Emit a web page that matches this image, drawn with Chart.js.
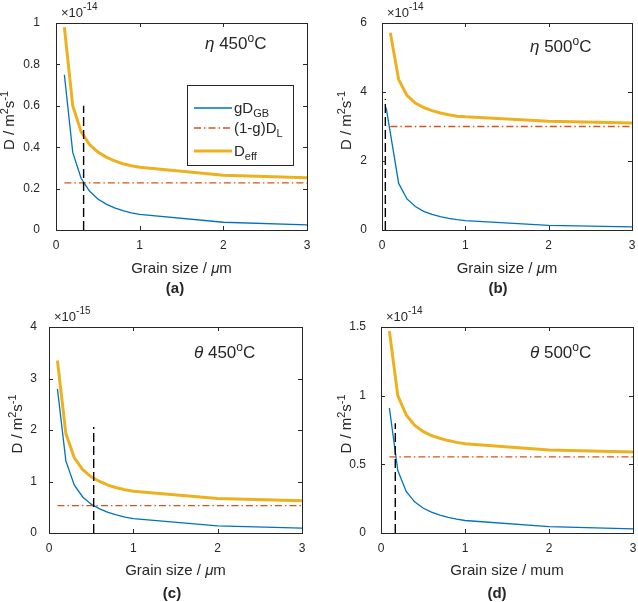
<!DOCTYPE html>
<html>
<head>
<meta charset="utf-8">
<script src="https://cdn.jsdelivr.net/npm/chart.js@4.4.1/dist/chart.umd.min.js"></script>
<style>
  html, body { margin: 0; padding: 0; background: #fff; }
  #wrap { position: relative; width: 638px; height: 602px; overflow: hidden; }
  canvas { position: absolute; }
</style>
</head>
<body>
<div id="wrap">
  <canvas id="ca" width="319" height="301" style="left:0;top:0"></canvas>
  <canvas id="cb" width="319" height="301" style="left:319px;top:0"></canvas>
  <canvas id="cc" width="319" height="301" style="left:0;top:301px"></canvas>
  <canvas id="cd" width="319" height="301" style="left:319px;top:301px"></canvas>
</div>
<script>
// grain sizes (um) used by the curves
const grainSize = [0.1, 0.2, 0.3, 0.4, 0.5, 0.6, 0.7, 0.8, 0.9, 1, 2, 3];
const latticeX = [0.1, 3];
const xTicks = [0, 1, 2, 3];

// (a) eta 450C, x1e-14
const gbA = [0.75, 0.375, 0.25, 0.188, 0.15, 0.125, 0.107, 0.094, 0.083, 0.075, 0.0375, 0.025];
const latticeA = [0.228, 0.228];
const effA = [0.98, 0.60, 0.475, 0.413, 0.377, 0.352, 0.334, 0.32, 0.31, 0.303, 0.265, 0.253];
const critA = [0.33, 0.6];
const yTicksA = [0, 0.2, 0.4, 0.6, 0.8, 1];

// (b) eta 500C, x1e-14
const grainSizeB = [0.05, 0.2, 0.3, 0.4, 0.5, 0.6, 0.7, 0.8, 0.9, 1, 2, 3];
const gbB = [3.55, 1.35, 0.9, 0.68, 0.54, 0.45, 0.39, 0.34, 0.3, 0.27, 0.135, 0.09];
const latticeB = [3.0, 3.0];
const effB = [5.72, 4.36, 3.9, 3.68, 3.55, 3.46, 3.39, 3.34, 3.3, 3.28, 3.15, 3.1];
const critB = [0.04, 3.8];
const yTicksB = [0, 2, 4, 6];

// (c) theta 450C, x1e-15
const gbC = [2.8, 1.4, 0.93, 0.7, 0.56, 0.47, 0.4, 0.35, 0.31, 0.28, 0.14, 0.093];
const latticeC = [0.53, 0.53];
const effC = [3.35, 1.93, 1.46, 1.23, 1.09, 1.0, 0.93, 0.88, 0.84, 0.81, 0.67, 0.625];
const critC = [0.53, 2.06];
const yTicksC = [0, 1, 2, 3, 4];

// (d) theta 500C, x1e-14
const gbD = [0.91, 0.455, 0.303, 0.227, 0.182, 0.152, 0.13, 0.114, 0.101, 0.091, 0.046, 0.03];
const latticeD = [0.555, 0.555];
const effD = [1.47, 1.0, 0.86, 0.785, 0.74, 0.71, 0.69, 0.673, 0.66, 0.65, 0.605, 0.59];
const critD = [0.17, 0.8];
const yTicksD = [0, 0.5, 1, 1.5];

const FONT = "'Liberation Sans', Arial, Helvetica, sans-serif";
const INK = '#262626';
const BLUE = '#0072BD';
const RED = '#D95319';
const GOLD = '#EDB120';

function pts(xs, ys) {
  return xs.map((x, i) => ({ x: x, y: ys[i] }));
}

function fontOf(r) {
  return (r.italic ? 'italic ' : '') + (r.bold ? 'bold ' : '') + r.size + 'px ' + FONT;
}

// draw a row of text pieces (for sub/superscripts), returns width
function runs(ctx, parts, x, y, align) {
  let w = 0;
  parts.forEach(r => { ctx.font = fontOf(r); w += ctx.measureText(r.t).width; });
  let cx = align === 'center' ? x - w / 2 : x;
  ctx.textAlign = 'left';
  ctx.textBaseline = 'alphabetic';
  ctx.fillStyle = INK;
  parts.forEach(r => {
    ctx.font = fontOf(r);
    ctx.fillText(r.t, cx, y + (r.dy || 0));
    cx += ctx.measureText(r.t).width;
  });
  return w;
}

const panelText = {
  id: 'panelText',
  afterDraw(chart) {
    const p = chart.options.plugins.panelText;
    const ctx = chart.ctx;
    const a = chart.chartArea;
    const xs = chart.scales.x, ys = chart.scales.y;
    ctx.save();
    // box and inward ticks
    ctx.strokeStyle = INK;
    ctx.lineWidth = 1;
    ctx.strokeRect(Math.round(a.left) + 0.5, Math.round(a.top) + 0.5,
      Math.round(a.right - a.left), Math.round(a.bottom - a.top));
    ctx.beginPath();
    xTicks.forEach(v => {
      const px = Math.round(xs.getPixelForValue(v)) + 0.5;
      ctx.moveTo(px, a.bottom); ctx.lineTo(px, a.bottom - 4);
      ctx.moveTo(px, a.top); ctx.lineTo(px, a.top + 4);
    });
    p.yTicks.forEach(v => {
      const py = Math.round(ys.getPixelForValue(v)) + 0.5;
      ctx.moveTo(a.left, py); ctx.lineTo(a.left + 4, py);
      ctx.moveTo(a.right, py); ctx.lineTo(a.right - 4, py);
    });
    ctx.stroke();

    // exponent
    runs(ctx, [{ t: '\u00d710', size: 13 }, { t: p.exp, size: 10, dy: -7 }], a.left + 5, a.top - 6, 'left');

    // annotation
    runs(ctx, [{ t: p.sym, size: 17, italic: true }, { t: ' ' + p.temp, size: 17 },
      { t: 'o', size: 12, dy: -7 }, { t: 'C', size: 17 }], p.noteX, p.noteY, 'left');

    // x title and panel letter
    const cx = (a.left + a.right) / 2;
    if (p.unitItalic) {
      runs(ctx, [{ t: 'Grain size / ', size: 15 }, { t: '\u03bc', size: 15, italic: true }, { t: 'm', size: 15 }], cx, p.xTitleY, 'center');
    } else {
      runs(ctx, [{ t: 'Grain size / mum', size: 15 }], cx, p.xTitleY, 'center');
    }
    runs(ctx, [{ t: p.letter, size: 15, bold: true }], p.letterX, p.letterY, 'center');

    // y title (rotated)
    ctx.save();
    ctx.translate(p.yTitleX, (a.top + a.bottom) / 2 - 6);
    ctx.rotate(-Math.PI / 2);
    runs(ctx, [{ t: 'D / m', size: 15 }, { t: '2', size: 11, dy: -6 }, { t: 's', size: 15 }, { t: '-1', size: 11, dy: -6 }], 0, 0, 'center');
    ctx.restore();

    // legend
    if (p.legend) {
      const L = p.legend;
      ctx.fillStyle = '#fff';
      ctx.fillRect(L.x, L.y, L.w, L.h);
      ctx.strokeStyle = INK;
      ctx.lineWidth = 1;
      ctx.strokeRect(L.x + 0.5, L.y + 0.5, L.w, L.h);
      const rows = [
        { color: BLUE, width: 1.3, dash: [], label: [{ t: 'gD', size: 15 }, { t: 'GB', size: 11, dy: 4 }] },
        { color: RED, width: 1.3, dash: [7, 3, 1.5, 3], label: [{ t: '(1-g)D', size: 15 }, { t: 'L', size: 11, dy: 4 }] },
        { color: GOLD, width: 3, dash: [], label: [{ t: 'D', size: 15 }, { t: 'eff', size: 11, dy: 4 }] }
      ];
      rows.forEach((r, i) => {
        const y = L.rows[i];
        ctx.strokeStyle = r.color;
        ctx.lineWidth = r.width;
        ctx.setLineDash(r.dash);
        ctx.beginPath();
        ctx.moveTo(L.x + 7, y); ctx.lineTo(L.x + 45, y);
        ctx.stroke();
        ctx.setLineDash([]);
        runs(ctx, r.label, L.x + 47, y + 5, 'left');
      });
    }
    ctx.restore();
  }
};

function makePanel(id, cfg) {
  const datasets = [
    { data: pts(cfg.gx, cfg.gb), borderColor: BLUE, borderWidth: 1.3, order: 3 },
    { data: pts(latticeX, cfg.lat), borderColor: RED, borderWidth: 1.3, borderDash: [7, 3, 1.5, 3], order: 2 },
    { data: pts(grainSize, cfg.eff), borderColor: GOLD, borderWidth: 3, order: 1 },
    { data: pts([cfg.crit[0], cfg.crit[0]], [0, cfg.crit[1]]), borderColor: '#000', borderWidth: 1.4, borderDash: [9, 4], order: 0 }
  ];
  datasets.forEach(d => { d.pointRadius = 0; d.fill = false; d.tension = 0; });
  const tickFont = { family: FONT, size: 12 };
  return new Chart(document.getElementById(id), {
    type: 'line',
    data: { datasets: datasets },
    options: {
      responsive: false,
      animation: false,
      layout: { padding: { left: 0, top: cfg.T, right: 319 - cfg.R, bottom: 0 } },
      plugins: {
        legend: { display: false },
        tooltip: { enabled: false },
        panelText: cfg.text
      },
      scales: {
        x: {
          type: 'linear', min: 0, max: 3,
          afterBuildTicks: s => { s.ticks = xTicks.map(v => ({ value: v })); },
          afterFit: s => { s.height = 301 - cfg.B; },
          grid: { display: false },
          border: { display: false },
          ticks: { font: tickFont, color: INK, padding: 0, maxRotation: 0, autoSkip: false }
        },
        y: {
          type: 'linear', min: 0, max: cfg.yTicks[cfg.yTicks.length - 1],
          afterBuildTicks: s => { s.ticks = cfg.yTicks.map(v => ({ value: v })); },
          afterFit: s => { s.width = cfg.L; },
          grid: { display: false },
          border: { display: false },
          ticks: { font: tickFont, color: INK, padding: cfg.tickPad, autoSkip: false, callback: v => String(v) }
        }
      }
    },
    plugins: [panelText]
  });
}

makePanel('ca', {
  gx: grainSize, gb: gbA, lat: latticeA, eff: effA, crit: critA, yTicks: yTicksA,
  L: 56, R: 307, T: 23, B: 230, tickPad: 8,
  text: {
    yTicks: yTicksA, exp: '-14', sym: '\u03b7', temp: '450', noteX: 205, noteY: 49,
    unitItalic: true, xTitleY: 273, letter: '(a)', letterX: 175, letterY: 293, yTitleX: 14,
    legend: { x: 187, y: 85, w: 106, h: 80, rows: [108, 128, 151] }
  }
});

makePanel('cb', {
  gx: grainSizeB, gb: gbB, lat: latticeB, eff: effB, crit: critB, yTicks: yTicksB,
  L: 63, R: 313, T: 23, B: 230, tickPad: 7,
  text: {
    yTicks: yTicksB, exp: '-14', sym: '\u03b7', temp: '500', noteX: 211, noteY: 52,
    unitItalic: true, xTitleY: 273, letter: '(b)', letterX: 179, letterY: 293, yTitleX: 32
  }
});

makePanel('cc', {
  gx: grainSize, gb: gbC, lat: latticeC, eff: effC, crit: critC, yTicks: yTicksC,
  L: 49, R: 302, T: 26, B: 232, tickPad: 4,
  text: {
    yTicks: yTicksC, exp: '-15', sym: '\u03b8', temp: '450', noteX: 194, noteY: 57,
    unitItalic: true, xTitleY: 274, letter: '(c)', letterX: 172, letterY: 297, yTitleX: 22
  }
});

makePanel('cd', {
  gx: grainSize, gb: gbD, lat: latticeD, eff: effD, crit: critD, yTicks: yTicksD,
  L: 62, R: 314, T: 26, B: 232, tickPad: 7,
  text: {
    yTicks: yTicksD, exp: '-14', sym: '\u03b8', temp: '500', noteX: 211, noteY: 57,
    unitItalic: false, xTitleY: 274, letter: '(d)', letterX: 178, letterY: 297, yTitleX: 32
  }
});
</script>
</body>
</html>
